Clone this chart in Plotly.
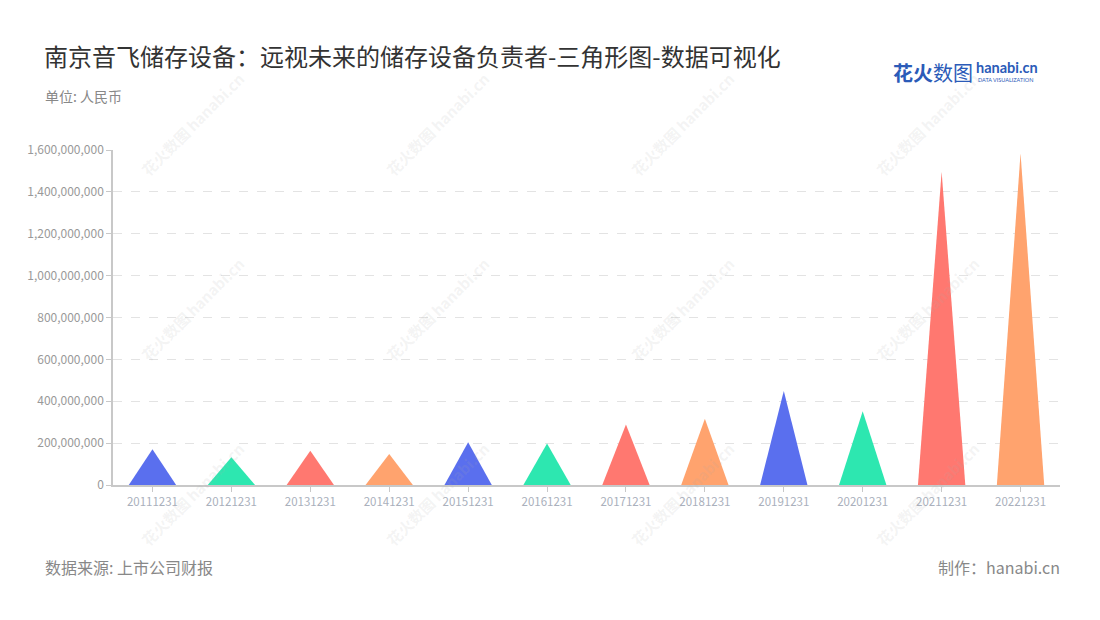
import plotly.graph_objects as go

categories = ["20111231", "20121231", "20131231", "20141231", "20151231", "20161231",
              "20171231", "20181231", "20191231", "20201231", "20211231", "20221231"]
values = [171e6, 132e6, 164e6, 148e6, 204e6, 198e6, 289e6, 317e6, 449e6, 352e6, 1496e6, 1584e6]
palette = ["#5A6FEE", "#2DE7B0", "#FF7870", "#FFA36E"]
y_ticks = [0, 200e6, 400e6, 600e6, 800e6, 1000e6, 1200e6, 1400e6, 1600e6]
y_tick_labels = ["0", "200,000,000", "400,000,000", "600,000,000", "800,000,000",
                 "1,000,000,000", "1,200,000,000", "1,400,000,000", "1,600,000,000"]

FONT = "Noto Sans CJK SC, Noto Sans, sans-serif"
half = 0.3

W, H = 1100, 620
OFF = 8  # page body margin
# desired on-screen plot box: left 113, right 1060, top 150, bottom 485
ML, MT = 113 - OFF, 150 - OFF
MR = W + OFF - 1060
MB = H + OFF - 485
PW, PH = W - ML - MR, H - MT - MB


def px(x, y):
    # screen pixels -> paper coords
    return (x - OFF - ML) / PW, (H - MB - (y - OFF)) / PH


def note(text, x, y, size, color, xanchor="left", family=FONT, angle=0, yanchor="middle"):
    ax, ay = px(x, y)
    return dict(text=text, x=ax, y=ay, xref="paper", yref="paper", showarrow=False,
                xanchor=xanchor, yanchor=yanchor, textangle=angle,
                font=dict(size=size, color=color, family=family))


fig = go.Figure()
for i, (c, v) in enumerate(zip(categories, values)):
    fig.add_trace(go.Scatter(
        x=[i - half, i, i + half, i - half],
        y=[0, v, 0, 0],
        mode="lines", fill="toself",
        fillcolor=palette[i % 4],
        line=dict(width=0, color=palette[i % 4]),
        hoverinfo="text", text=f"{c}: {v:,.0f}",
        showlegend=False,
    ))

annotations = []
# faint watermarks
for cx in [192, 437, 682, 927]:
    for cy in [124, 309, 494]:
        annotations.append(note("<b>花火数图 hanabi.cn</b>", cx, cy, 15,
                                "rgba(170,170,170,0.14)", xanchor="center", angle=-45))

annotations += [
    note("南京音飞储存设备：远视未来的储存设备负责者-三角形图-数据可视化", 42, 55, 24, "#333"),
    note("单位: 人民币", 43, 96, 14, "#888"),
    note("数据来源: 上市公司财报", 43, 567, 16, "#888"),
    note("制作：hanabi.cn", 1062, 567, 16, "#888", xanchor="right"),
    note("<b>花火</b>数图", 891, 72, 20, "#2B5BB8"),
    note("<b>hanabi.cn</b>", 974, 68, 14.5, "#2B5BB8", family="Lato, sans-serif"),
    note("DATA VISUALIZATION", 976, 80, 5.5, "#2B5BB8", family="Lato, sans-serif"),
]

fig.update_layout(
    width=W, height=H,
    paper_bgcolor="white", plot_bgcolor="white",
    margin=dict(l=ML, r=MR, t=MT, b=MB, autoexpand=False),
    font=dict(family=FONT, color="#999"),
    xaxis=dict(
        range=[-0.5, 11.5], tickmode="array",
        tickvals=list(range(len(categories))), ticktext=categories,
        showgrid=False, zeroline=False, automargin=False,
        showline=True, linecolor="#c8c8c8", linewidth=1.5,
        ticks="outside", ticklen=5, tickcolor="#c8c8c8",
        tickfont=dict(size=11.5, color="#aab0bc", family=FONT),
        fixedrange=True,
    ),
    yaxis=dict(
        range=[0, 1.6e9], tickmode="array", tickvals=y_ticks, ticktext=y_tick_labels,
        showgrid=True, gridcolor="#e3e3e3", griddash="dash", gridwidth=1,
        zeroline=False, showline=True, linecolor="#c8c8c8", linewidth=1.5,
        ticks="outside", ticklen=5, tickcolor="#c8c8c8", automargin=False,
        tickfont=dict(size=12, color="#999", family=FONT),
        fixedrange=True,
    ),
    annotations=annotations,
)

fig.write_html("out.html")
